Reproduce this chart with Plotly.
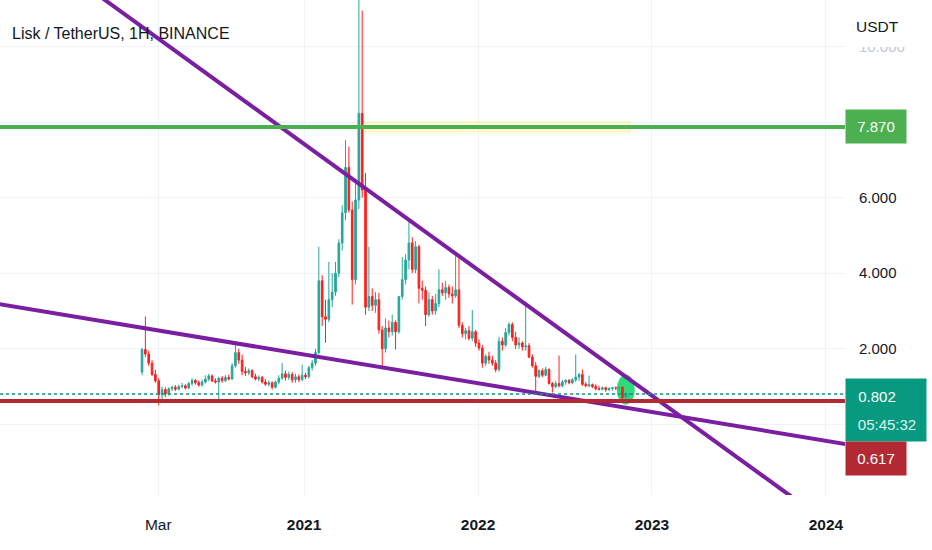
'''
LSK / USDT weekly candles with trend lines and levels
'''

import pandas as pd
import plotly.graph_objects as go

# Weekly candles, first week starts 2020-01-27
first_week = '2020-01-27'

open_ = [1.38, 1.98, 1.86, 1.62, 1.32, 1.15, 0.78, 0.92, 0.80, 0.94,
         0.98, 0.93, 1.00, 1.02, 0.96, 1.08, 1.16, 1.10, 1.04, 1.12,
         1.20, 1.28, 1.15, 1.12, 1.22, 1.16, 1.24, 1.20, 1.55, 1.90,
         1.70, 1.40, 1.36, 1.42, 1.26, 1.20, 1.24, 1.12, 1.06, 1.10,
         0.98, 1.12, 1.22, 1.34, 1.24, 1.32, 1.18, 1.26, 1.18, 1.30,
         1.26, 1.50, 1.62, 1.90, 3.80, 2.85, 2.78, 3.30, 3.50, 4.00,
         4.80, 5.60, 6.80, 5.67, 3.83, 5.94, 8.23, 6.20, 3.10, 3.38,
         3.15, 3.30, 2.50, 2.00, 2.55, 2.45, 2.70, 2.45, 3.38, 3.83,
         4.35, 4.80, 4.10, 4.70, 3.60, 3.55, 2.90, 3.30, 3.00, 3.20,
         3.56, 3.48, 3.62, 3.45, 3.40, 3.56, 2.62, 2.40, 2.48, 2.28,
         2.45, 2.15, 2.02, 1.62, 1.80, 1.70, 1.62, 1.45, 2.20, 2.10,
         2.43, 2.64, 2.30, 2.10, 2.15, 2.05, 2.08, 1.78, 1.55, 1.27,
         1.42, 1.30, 1.45, 1.08, 1.00, 1.08, 1.02, 1.12, 1.16, 1.10,
         1.18, 1.25, 1.32, 1.06, 1.02, 1.05, 1.00, 0.94, 0.93, 0.97,
         0.92, 0.95, 0.97, 0.96, 0.98, 0.71, 0.79]

high = [2.02, 2.85, 1.95, 1.70, 1.45, 1.22, 1.00, 0.98, 0.98, 1.02,
        1.04, 1.05, 1.10, 1.06, 1.12, 1.22, 1.20, 1.16, 1.18, 1.30,
        1.34, 1.32, 1.22, 1.26, 1.28, 1.30, 1.32, 1.62, 2.15, 2.00,
        1.85, 1.52, 1.48, 1.46, 1.34, 1.30, 1.28, 1.20, 1.16, 1.14,
        1.16, 1.30, 1.62, 1.42, 1.40, 1.38, 1.34, 1.32, 1.58, 1.36,
        1.55, 1.70, 2.00, 4.70, 3.95, 3.30, 4.30, 4.00, 4.30, 4.90,
        5.80, 7.52, 7.35, 5.90, 6.50, 11.60, 10.95, 6.65, 4.70, 3.60,
        3.50, 3.48, 2.60, 2.80, 2.75, 2.90, 2.75, 3.40, 4.43, 4.50,
        5.46, 4.95, 4.85, 4.75, 3.80, 3.65, 3.50, 3.40, 3.45, 4.10,
        3.75, 3.80, 3.70, 3.65, 4.54, 4.45, 2.70, 2.55, 2.60, 3.03,
        2.50, 2.25, 2.10, 1.85, 1.92, 1.82, 1.70, 2.32, 2.30, 2.55,
        2.70, 2.70, 2.45, 2.30, 2.20, 3.25, 2.15, 1.85, 1.65, 1.46,
        1.48, 1.52, 1.48, 1.12, 1.15, 1.82, 1.18, 1.20, 1.20, 1.22,
        1.85, 1.36, 1.45, 1.12, 1.29, 1.08, 1.06, 1.02, 1.00, 1.00,
        0.98, 0.99, 1.00, 1.00, 1.00, 0.84, 0.82]

low = [1.30, 1.78, 1.55, 1.28, 1.10, 0.50, 0.62, 0.72, 0.76, 0.88,
       0.88, 0.90, 0.95, 0.92, 0.94, 1.02, 1.05, 1.00, 1.00, 1.08,
       1.14, 1.12, 1.08, 0.64, 1.10, 1.12, 1.16, 1.18, 1.50, 1.60,
       1.30, 1.28, 1.30, 1.22, 1.16, 1.14, 1.08, 1.02, 1.00, 0.92,
       0.95, 1.06, 1.18, 1.16, 1.18, 1.10, 1.10, 1.12, 1.15, 1.20,
       1.22, 1.42, 1.55, 1.85, 2.60, 2.16, 2.70, 3.10, 3.40, 3.90,
       4.60, 5.40, 5.60, 3.17, 3.70, 5.70, 6.00, 2.90, 3.00, 3.00,
       2.95, 2.40, 1.53, 1.90, 2.30, 2.35, 1.98, 2.40, 3.30, 3.70,
       4.10, 4.00, 4.00, 3.20, 3.30, 2.60, 2.85, 2.90, 2.90, 3.10,
       3.40, 3.30, 3.35, 3.20, 3.35, 2.55, 2.30, 2.25, 2.22, 2.20,
       2.05, 1.95, 1.50, 1.55, 1.60, 1.55, 1.38, 1.40, 1.95, 2.05,
       2.35, 2.20, 2.00, 2.00, 1.95, 1.95, 1.75, 1.50, 0.84, 1.22,
       1.25, 1.28, 1.05, 0.84, 0.96, 0.98, 0.98, 1.05, 1.06, 1.06,
       1.12, 1.15, 1.02, 0.98, 0.98, 0.96, 0.90, 0.90, 0.90, 0.86,
       0.88, 0.89, 0.91, 0.90, 0.66, 0.70, 0.77]

close = [1.98, 1.86, 1.62, 1.32, 1.15, 0.78, 0.92, 0.80, 0.94, 0.98,
         0.93, 1.00, 1.02, 0.96, 1.08, 1.16, 1.10, 1.04, 1.12, 1.20,
         1.28, 1.15, 1.12, 1.22, 1.16, 1.24, 1.20, 1.55, 1.90, 1.70,
         1.40, 1.36, 1.42, 1.26, 1.20, 1.24, 1.12, 1.06, 1.10, 0.98,
         1.12, 1.22, 1.34, 1.24, 1.32, 1.18, 1.26, 1.18, 1.30, 1.26,
         1.50, 1.62, 1.90, 3.80, 2.85, 2.78, 3.30, 3.50, 4.00, 4.80,
         5.60, 6.80, 5.67, 3.83, 5.94, 8.23, 6.20, 3.10, 3.38, 3.15,
         3.30, 2.50, 2.00, 2.55, 2.45, 2.70, 2.45, 3.38, 3.83, 4.35,
         4.80, 4.10, 4.70, 3.60, 3.55, 2.90, 3.30, 3.00, 3.20, 3.56,
         3.48, 3.62, 3.45, 3.40, 3.56, 2.62, 2.40, 2.48, 2.28, 2.45,
         2.15, 2.02, 1.62, 1.80, 1.70, 1.62, 1.45, 2.20, 2.10, 2.43,
         2.64, 2.30, 2.10, 2.15, 2.05, 2.08, 1.78, 1.55, 1.27, 1.42,
         1.30, 1.45, 1.08, 1.00, 1.08, 1.02, 1.12, 1.16, 1.10, 1.18,
         1.25, 1.32, 1.06, 1.02, 1.05, 1.00, 0.94, 0.93, 0.97, 0.92,
         0.95, 0.97, 0.96, 0.98, 0.71, 0.79, 0.802]

weeks = pd.date_range(first_week, periods=len(close), freq='7D')

# Horizontal levels
resistance_level = 7.870
support_level = 0.617
last_price = 0.802
countdown = '05:45:32'

# Trend lines (two anchor points each)
upper_trend_dates = ['2019-08-08', '2024-02-20']
upper_trend_prices = [12.09, -3.03]
lower_trend_dates = ['2019-03-14', '2024-02-20']
lower_trend_prices = [3.22, -0.54]

# Highlight box on the resistance and the circle on the last candles
box_dates = ['2021-05-09', '2022-11-16']
box_prices = [7.74, 8.00]
circle_dates = ['2022-10-19', '2022-11-26']
circle_prices = [0.52, 1.31]

# Axis ticks (0 and 8 sit behind the price labels, so no text for them)
price_ticks = [0, 2, 4, 6, 8, 10]
price_labels = ['', '2.000', '4.000', '6.000', '',
                '<span style="color:#c3c6cf">10.000</span>']
time_ticks = ['2020-03-01', '2021-01-01', '2022-01-01', '2023-01-01', '2024-01-01']
time_labels = ['Mar', '<b>2021</b>', '<b>2022</b>', '<b>2023</b>', '<b>2024</b>']

font_family = 'Liberation Sans, Arial, sans-serif'
text_color = '#131722'
up_color = '#26a69a'
down_color = '#ff1e1e'
purple = '#7b1fa2'

fig = go.Figure()

fig.add_trace(go.Candlestick(
    x=weeks, open=open_, high=high, low=low, close=close,
    increasing=dict(line=dict(color=up_color, width=1), fillcolor=up_color),
    decreasing=dict(line=dict(color=down_color, width=1), fillcolor=down_color),
    hoverinfo='skip'
))

fig.add_trace(go.Scatter(x=upper_trend_dates, y=upper_trend_prices, mode='lines',
                         line=dict(color=purple, width=4), hoverinfo='skip'))
fig.add_trace(go.Scatter(x=lower_trend_dates, y=lower_trend_prices, mode='lines',
                         line=dict(color=purple, width=4), hoverinfo='skip'))

shapes = [
    # yellow highlight under the candles
    dict(type='rect', xref='x', yref='y', x0=box_dates[0], x1=box_dates[1],
         y0=box_prices[0], y1=box_prices[1], layer='between',
         fillcolor='rgba(255,235,59,0.14)', line=dict(color='rgba(255,235,59,0.55)', width=1)),
    # green circle around the last candles
    dict(type='circle', xref='x', yref='y', x0=circle_dates[0], x1=circle_dates[1],
         y0=circle_prices[0], y1=circle_prices[1], layer='between',
         fillcolor='#2bdc78', line=dict(width=0)),
    # price lines
    dict(type='line', xref='paper', yref='y', x0=0, x1=1, y0=resistance_level, y1=resistance_level,
         line=dict(color='#4caf50', width=4), layer='above'),
    dict(type='line', xref='paper', yref='y', x0=0, x1=1, y0=support_level, y1=support_level,
         line=dict(color='#b22833', width=4), layer='above'),
    dict(type='line', xref='paper', yref='y', x0=0, x1=1, y0=last_price, y1=last_price,
         line=dict(color='#089981', width=1.5, dash='dot'), layer='above'),
    # header strip hiding the top half of the 10.000 label
    dict(type='rect', xref='paper', yref='paper', x0=1.003, x1=1.11, y0=0.905, y1=1.0,
         fillcolor='white', line=dict(width=0), layer='above'),
]

label_font = dict(size=15, color='white', family=font_family)

annotations = [
    dict(text='Lisk / TetherUS, 1H, BINANCE', xref='paper', yref='paper', x=0.012, y=0.933,
         xanchor='left', yanchor='middle', showarrow=False,
         font=dict(size=16, color=text_color, family=font_family)),
    dict(text='USDT', xref='paper', yref='paper', x=1.038, y=0.947,
         xanchor='center', yanchor='middle', showarrow=False,
         font=dict(size=15.5, color=text_color, family=font_family)),
    dict(text=f'{resistance_level:.3f}', xref='paper', yref='y', x=1.0, y=resistance_level,
         xanchor='left', yanchor='middle', showarrow=False, width=60, height=33,
         bgcolor='#4caf50', borderpad=0, font=label_font),
    # last price box: background, price and countdown
    dict(text=' ', xref='paper', yref='y', x=1.0, y=0.384,
         xanchor='left', yanchor='middle', showarrow=False, width=80, height=62,
         bgcolor='#089981', borderpad=0, font=label_font),
    dict(text=f'{last_price:.3f}', xref='paper', yref='y', x=1.0, y=0.728,
         xanchor='left', yanchor='middle', showarrow=False, width=60,
         font=label_font),
    dict(text=countdown, xref='paper', yref='y', x=1.0, y=-0.013,
         xanchor='left', yanchor='middle', showarrow=False, width=80,
         font=dict(size=15, color='#dff3ee', family=font_family)),
    dict(text=f'{support_level:.3f}', xref='paper', yref='y', x=1.0, y=-0.90,
         xanchor='left', yanchor='middle', showarrow=False, width=60, height=33,
         bgcolor='#b22833', borderpad=0, font=label_font),
]

fig.update_layout(
    width=932,
    height=550,
    margin=dict(l=0, r=87, t=0, b=55),
    paper_bgcolor='white',
    plot_bgcolor='white',
    showlegend=False,
    shapes=shapes,
    annotations=annotations,
    font=dict(family=font_family, color=text_color),
    xaxis=dict(
        type='date',
        range=['2019-04-04', '2024-02-10'],
        rangeslider=dict(visible=False),
        tickvals=time_ticks,
        ticktext=time_labels,
        tickfont=dict(size=15.5, color=text_color, family=font_family),
        ticklabelstandoff=18,
        showgrid=True,
        gridcolor='#f0f3fa',
        gridwidth=1,
        zeroline=False,
        showline=False,
        ticks='',
    ),
    yaxis=dict(
        side='right',
        range=[-1.87, 11.23],
        tickvals=price_ticks,
        ticktext=price_labels,
        tickfont=dict(size=15, color=text_color, family=font_family),
        ticklabelstandoff=13,
        showgrid=True,
        gridcolor='#f0f3fa',
        gridwidth=1,
        zeroline=False,
        showline=False,
        ticks='',
    ),
)

# drop the page's default body margin so the chart sits at the window corner
fig.write_html("out.html", config={'displayModeBar': False},
               post_script="document.body.style.margin='0px';")
